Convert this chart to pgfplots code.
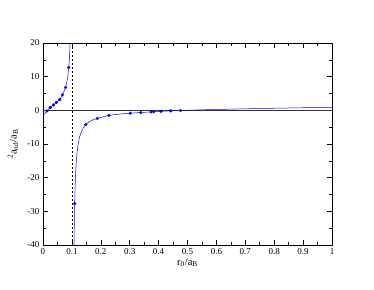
\documentclass[border=0pt]{standalone}
\usepackage{fontspec}
\setmainfont{Liberation Serif}
\usepackage{pgfplots}
\pgfplotsset{compat=1.18}
\definecolor{gblue}{rgb}{0,0,1}
\begin{document}
\begin{tikzpicture}[x=1pt,y=1pt]
\path[use as bounding box] (0,0) rectangle (374,289);
\begin{axis}[
  at={(43pt,44pt)}, anchor=south west,
  width=289pt, height=202pt, scale only axis,
  xmin=0, xmax=1, ymin=-40, ymax=20,
  xtick={0,0.1,0.2,0.3,0.4,0.5,0.6,0.7,0.8,0.9,1},
  xticklabels={0,0.1,0.2,0.3,0.4,0.5,0.6,0.7,0.8,0.9,1},
  ytick={-40,-30,-20,-10,0,10,20},
  yticklabels={-40,-30,-20,-10,0,10,20},
  minor x tick num=1, minor y tick num=1,
  tick align=inside,
  major tick length=5pt, minor tick length=3pt,
  axis line style={line width=0.7pt},
  every tick/.style={black, line width=0.6pt},
  ticklabel style={font=\fontsize{9}{10}\selectfont},
  xlabel={r\textsubscript{0}/a\textsubscript{B}},
  ylabel={\textsuperscript{2}a\textsubscript{nd}/a\textsubscript{B}},
  xlabel style={font=\fontsize{10.5}{12}\selectfont, at={(axis description cs:0.5,0)}, anchor=north, inner sep=0pt, yshift=-13pt},
  ylabel style={font=\fontsize{10.5}{12}\selectfont, at={(axis description cs:-0.104,0.5)}, anchor=center, inner sep=0pt},
]
\addplot[black!80, line width=0.6pt] coordinates {(0,0) (1,0)};
\addplot[black, line width=0.4pt, dash pattern=on 2pt off 2pt] coordinates {(0.1,-40) (0.1,20)};
\addplot[gblue, line width=0.5pt] coordinates {
(0.004,-1.2)(0.0138,-0.2)(0.02,0.4)(0.025,0.8)(0.03,1.17)(0.036,1.6)(0.041,1.95)(0.046,2.3)(0.052,2.72)(0.058,3.2)(0.062,3.75)(0.067,4.6)(0.072,5.5)(0.078,6.8)(0.082,8.2)(0.086,10.2)(0.089,12.7)(0.091,15.0)(0.0925,17.4)(0.094,20.6)(0.095,23)
};
\addplot[gblue, line width=0.5pt] coordinates {
(0.1072,-42)(0.108,-35.8)(0.109,-30.2)(0.1096,-27.7)(0.111,-22.9)(0.113,-18.4)(0.115,-15.4)(0.118,-12.4)(0.122,-9.8)(0.127,-7.8)(0.133,-6.3)(0.14,-5.1)(0.148,-4.2)(0.16,-3.35)(0.175,-2.75)(0.188,-2.4)(0.2,-2.1)(0.228,-1.5)(0.25,-1.25)(0.275,-1.03)(0.302,-0.85)(0.338,-0.65)(0.374,-0.47)(0.408,-0.3)(0.442,-0.15)(0.476,-0.05)(0.5,0.03)(0.55,0.15)(0.6,0.25)(0.7,0.45)(0.8,0.62)(0.9,0.77)(1.0,0.9)
};
\addplot[only marks, mark=*, mark size=1.4pt, gblue, mark options={draw=gblue, fill=gblue}] coordinates {
(0.0138,-0.2)(0.025,0.8)(0.036,1.6)(0.046,2.3)(0.058,3.2)(0.067,4.6)(0.078,6.8)(0.089,12.7)(0.1096,-27.7)(0.148,-4.2)(0.188,-2.4)(0.228,-1.5)(0.302,-0.85)(0.338,-0.65)(0.374,-0.47)(0.383,-0.42)(0.408,-0.3)(0.442,-0.15)(0.476,-0.05)
};
\end{axis}
\end{tikzpicture}
\end{document}
